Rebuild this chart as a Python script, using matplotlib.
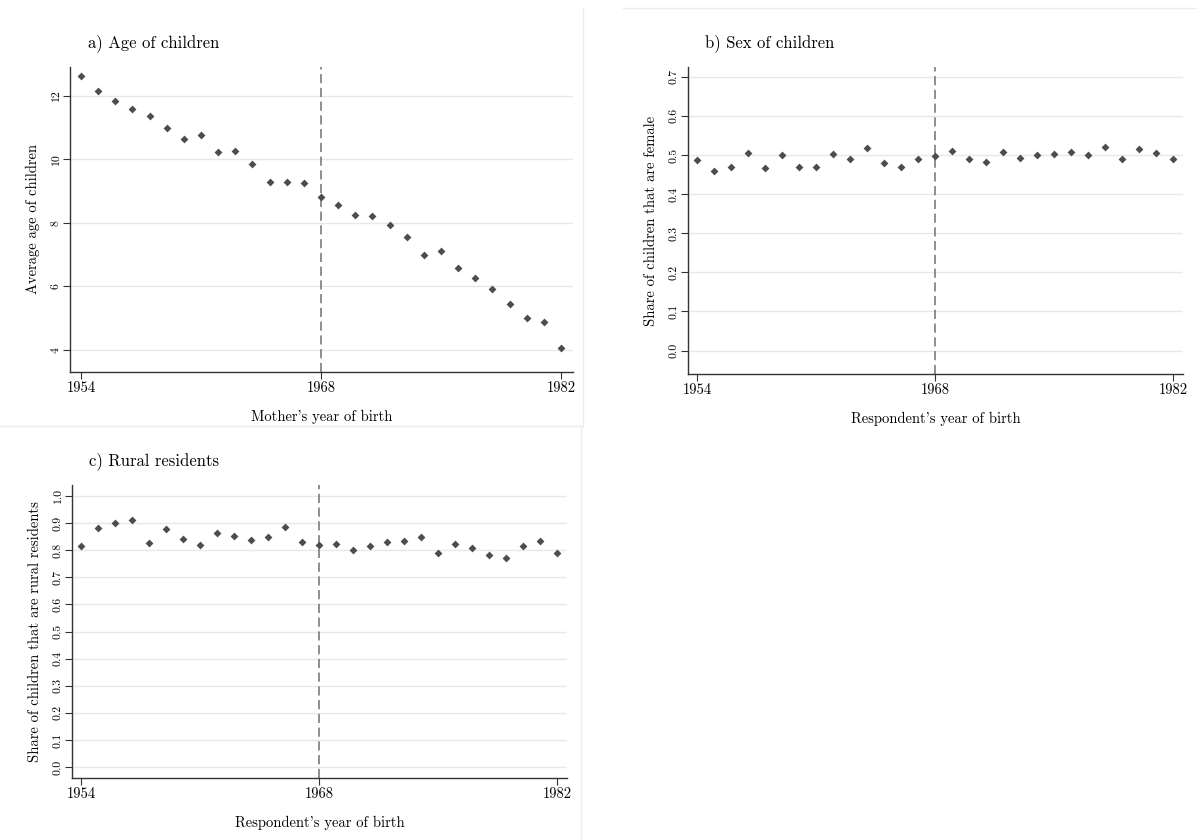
import matplotlib
matplotlib.use("Agg")
import matplotlib.pyplot as plt
from matplotlib.lines import Line2D
import numpy as np

plt.rcParams['font.family'] = ['cmr10', 'DejaVu Serif']
plt.rcParams['axes.formatter.use_mathtext'] = True

years = np.arange(1954, 1983)

age_children = [12.62, 12.14, 11.83, 11.57, 11.35, 10.98, 10.62, 10.77, 10.23, 10.25,
                9.86, 9.28, 9.28, 9.25, 8.80, 8.56, 8.25, 8.22, 7.92, 7.55,
                6.98, 7.11, 6.58, 6.27, 5.91, 5.43, 5.01, 4.88, 4.06]

share_female = [0.487, 0.458, 0.470, 0.504, 0.468, 0.499, 0.470, 0.470, 0.502, 0.490,
                0.517, 0.480, 0.470, 0.490, 0.497, 0.509, 0.490, 0.482, 0.507, 0.492,
                0.499, 0.502, 0.507, 0.499, 0.520, 0.490, 0.515, 0.504, 0.490]

share_rural = [0.814, 0.880, 0.901, 0.911, 0.827, 0.877, 0.842, 0.820, 0.863, 0.852,
               0.838, 0.848, 0.886, 0.831, 0.820, 0.823, 0.800, 0.814, 0.831, 0.835,
               0.848, 0.791, 0.823, 0.807, 0.781, 0.772, 0.814, 0.835, 0.791]

cutoff = 1968
xticks = [1954, 1968, 1982]

W, H = 1197, 840


def px_rect(left, top, right, bottom):
    return [left / W, 1 - bottom / H, (right - left) / W, (bottom - top) / H]


def draw_panel(ax, y, title, ylabel, xlabel, yticks, ylim, xlim, yfmt):
    ax.scatter(years, y, marker='D', s=16, color='#4d4d4d', zorder=3, linewidths=0)
    ax.axvline(cutoff, color='#707070', linestyle=(0, (6, 3)), linewidth=1.1, zorder=2)
    ax.set_xlim(*xlim)
    ax.set_ylim(*ylim)
    ax.set_xticks(xticks)
    ax.set_yticks(yticks)
    ax.set_yticklabels([yfmt % v for v in yticks], rotation=90, va='center', fontsize=8.5)
    ax.set_xticklabels([str(v) for v in xticks], fontsize=10.5)
    ax.yaxis.grid(True, color='#e8e8e8', linewidth=1.0, zorder=0)
    ax.set_axisbelow(True)
    for s in ['top', 'right']:
        ax.spines[s].set_visible(False)
    for s in ['left', 'bottom']:
        ax.spines[s].set_color('#333333')
        ax.spines[s].set_linewidth(1.0)
    ax.tick_params(direction='out', length=5, color='#333333', pad=1.5)
    ax.set_ylabel(ylabel, fontsize=10.5, labelpad=8)
    ax.set_xlabel(xlabel, fontsize=10.5, labelpad=11)
    ax.set_title(title, loc='left', fontsize=12, pad=14, x=0.035)


fig = plt.figure(figsize=(11.97, 8.40), dpi=100)

ax_a = fig.add_axes(px_rect(70, 67, 573, 372))
draw_panel(ax_a, age_children, 'a) Age of children', 'Average age of children',
           "Mother's year of birth", [4, 6, 8, 10, 12], (3.3, 12.9),
           (1953.36, 1982.7), '%d')

ax_b = fig.add_axes(px_rect(688, 67, 1183, 374))
draw_panel(ax_b, share_female, 'b) Sex of children', 'Share of children that are female',
           "Respondent's year of birth", [0.0, 0.1, 0.2, 0.3, 0.4, 0.5, 0.6, 0.7],
           (-0.06, 0.725), (1953.47, 1982.59), '%.1f')

ax_c = fig.add_axes(px_rect(72, 485, 567, 778))
draw_panel(ax_c, share_rural, 'c) Rural residents', 'Share of children that are rural residents',
           "Respondent's year of birth", [0.0, 0.1, 0.2, 0.3, 0.4, 0.5, 0.6, 0.7, 0.8, 0.9, 1.0],
           (-0.04, 1.04), (1953.47, 1982.59), '%.1f')

# faint borders between the graph regions
border = '#ececec'
fig.add_artist(Line2D([583 / W, 583 / W], [1 - 8 / H, 1 - 427 / H], color=border, lw=1))
fig.add_artist(Line2D([623 / W, 1.0], [1 - 8 / H, 1 - 8 / H], color=border, lw=1))
fig.add_artist(Line2D([0, 581 / W], [1 - 426 / H, 1 - 426 / H], color=border, lw=1))
fig.add_artist(Line2D([581 / W, 581 / W], [1 - 426 / H, 0], color=border, lw=1))

fig.savefig('out.png', dpi=100)
